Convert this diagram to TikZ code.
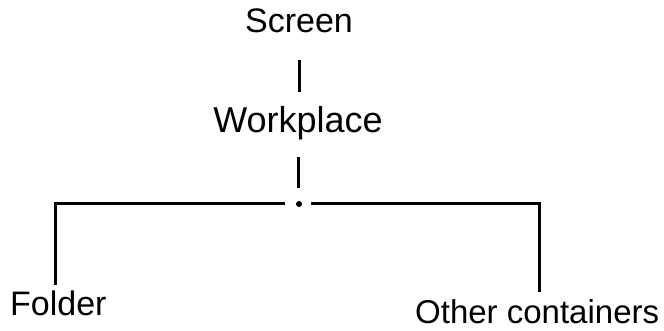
\documentclass[tikz,border=0pt]{standalone}
\usepackage{fontspec}
\setmainfont{Liberation Sans}
\begin{document}
\begin{tikzpicture}[x=1pt,y=1pt,
  lbl/.style={inner sep=0pt,font=\fontsize{34}{40}\selectfont},
  conn/.style={line width=3pt}]
\useasboundingbox (0,0) rectangle (664,-331);
\node[lbl,anchor=base] (scr) at (299,-33) {Screen};
\node[lbl,anchor=base,font=\fontsize{36}{42}\selectfont] (wp) at (298,-133) {Workplace};
\node[lbl,anchor=base west] (fold) at (10,-315) {Folder};
\node[lbl,anchor=base west,font=\fontsize{33}{40}\selectfont] (oth) at (415,-323) {Other containers};
\coordinate (j) at (299,-204);
\coordinate (jl) at (285,-204);
\coordinate (jr) at (311,-204);
\coordinate (lt) at (55,-204);
\coordinate (rt) at (539,-204);
\coordinate (lb) at (55,-285);
\coordinate (rb) at (539,-292);
\fill (j) circle (3);
\draw[conn] ([yshift=-27pt]scr.base) -- ([yshift=-59pt]scr.base);
\draw[conn] ([yshift=-24pt]wp.base) -- ([yshift=-55pt]wp.base);
\draw[conn] (jl) -- (lt) -- (lb);
\draw[conn] (jr) -- (rt) -- (rb);
\end{tikzpicture}
\end{document}
